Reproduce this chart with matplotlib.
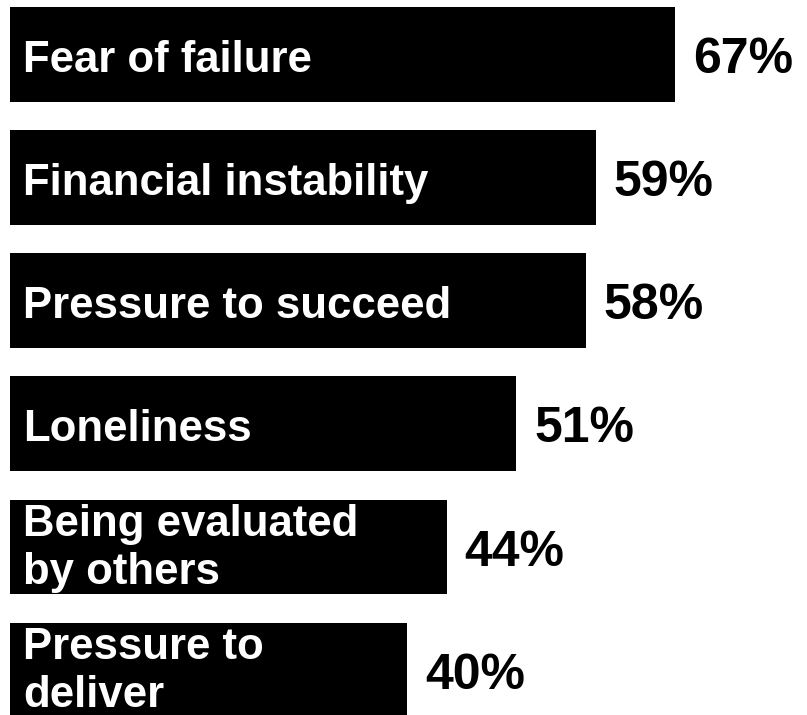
import matplotlib.pyplot as plt

categories = ["Fear of failure", "Financial instability", "Pressure to succeed",
              "Loneliness", "Being evaluated\nby others", "Pressure to\ndeliver"]
values = [67, 59, 58, 51, 44, 40]
value_labels = [f"{v}%" for v in values]

plt.rcParams['font.family'] = ['Liberation Sans', 'DejaVu Sans']

fig = plt.figure(figsize=(8.07, 7.15), dpi=100)
ax = fig.add_axes([0, 0, 1, 1])

ypos = list(range(len(categories)))
ax.barh(ypos, values, height=0.77, color="black", left=0)

for y, v, name, lab in zip(ypos, values, categories, value_labels):
    dy = -1 if "\n" in name else -4
    ax.annotate(name, xy=(0, y), xytext=(9.5, dy), textcoords="offset points",
                ha="left", va="center", color="white", fontsize=31.5,
                fontweight="bold", linespacing=1.2)
    ax.annotate(lab, xy=(v, y), xytext=(13, -4), textcoords="offset points",
                ha="left", va="center", color="black", fontsize=36,
                fontweight="bold")

ax.set_xlim(-1.0, 80.3)
ax.set_ylim(5.365, -0.443)
ax.axis("off")

fig.savefig("out.png", dpi=100)
